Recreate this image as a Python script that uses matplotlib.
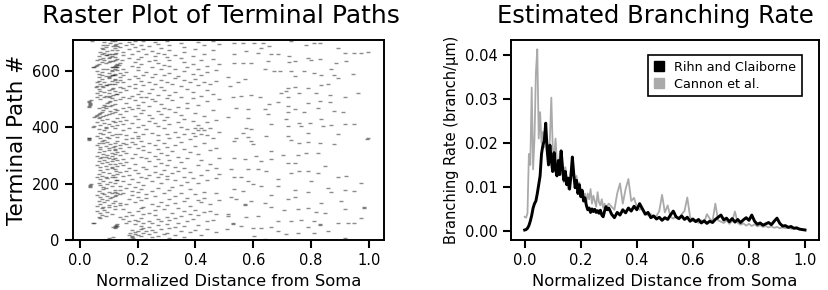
import numpy as np
import matplotlib
matplotlib.use("Agg")
import matplotlib.pyplot as plt
from matplotlib.patches import Patch

# ---- raster: terminal path number -> normalized distances of its branch points
path_ids = [
    2, 5, 8, 12, 15, 19, 22, 26, 29, 33, 36, 40, 43,
    46, 49, 52, 56, 59, 62, 66, 69, 72, 76, 79,
    83, 86, 90, 93, 97, 100, 104, 107, 110, 113,
    117, 120, 124, 127, 131, 134, 138, 141, 145, 148,
    152, 155, 158, 162, 165, 168, 172, 175, 179, 182, 185,
    188, 191, 195, 198, 202, 205, 209, 212, 215, 219,
    222, 225, 228, 232, 235, 239, 242, 245, 249, 252, 255,
    259, 262, 266, 269, 273, 276, 280, 283, 286, 289, 292,
    295, 298, 302, 305, 309, 312, 315, 319, 322, 325,
    329, 332, 336, 339, 342, 345, 348, 351, 354, 357, 360,
    363, 366, 368, 371, 374, 377, 380, 384, 388, 392, 395, 398,
    402, 404, 408, 411, 415, 418, 422, 425, 428, 432,
    436, 439, 442, 446, 449, 452, 456, 459, 463, 466, 469,
    472, 475, 479, 482, 485, 488, 491, 495, 498, 502, 505,
    508, 511, 514, 518, 521, 524, 527, 530, 533, 537,
    541, 544, 548, 551, 554, 558, 561, 564, 568, 571, 574,
    577, 580, 583, 586, 589, 592, 595, 598, 601, 604, 607,
    611, 614, 617, 620, 623, 627, 630, 633, 636, 639, 642,
    645, 648, 651, 654, 657, 660, 663, 666, 669, 672, 676,
    680, 683, 686, 689, 692, 695, 698, 701, 704, 706,
]

branch_dists = [
    # 0-45
    [0.10, 0.19, 0.28, 0.547], [0.105, 0.17, 0.23, 0.639], [0.10, 0.185, 0.31, 0.916],
    [0.115, 0.18, 0.25, 0.36], [0.18, 0.21, 0.27, 0.604], [0.17, 0.20, 0.33, 0.42],
    [0.19, 0.24, 0.29, 0.714], [0.175, 0.22, 0.30, 0.755, 0.812], [0.19, 0.26, 0.38, 0.47],
    [0.20, 0.23, 0.35, 0.685, 0.858], [0.18, 0.25, 0.40], [0.21, 0.28, 0.44, 0.51],
    [0.12, 0.22, 0.31, 0.598, 0.627],
    # 45-80
    [0.115, 0.125, 0.24, 0.33, 0.662, 0.79], [0.12, 0.13, 0.21, 0.36, 0.558],
    [0.125, 0.27, 0.41, 0.83], [0.13, 0.19, 0.30, 0.53, 0.83], [0.046, 0.16, 0.25, 0.893, 0.928],
    [0.048, 0.22, 0.34, 0.95, 0.53], [0.20, 0.28, 0.44, 0.685, 0.73], [0.17, 0.24, 0.37, 0.812],
    [0.19, 0.31, 0.46, 0.766], [0.15, 0.27, 0.39], [0.07, 0.21, 0.33, 0.973],
    # 80-115
    [0.065, 0.14, 0.30, 0.576], [0.09, 0.16, 0.35, 0.616, 0.512], [0.075, 0.18, 0.26, 0.41],
    [0.11, 0.22, 0.38, 0.47, 0.512], [0.07, 0.24, 0.32, 0.847], [0.095, 0.17, 0.43, 0.818],
    [0.06, 0.20, 0.36, 0.45], [0.085, 0.26, 0.40, 0.708], [0.12, 0.15, 0.29, 0.755, 0.916],
    [0.075, 0.21, 0.34, 0.79, 0.985],
    # 115-151
    [0.08, 0.10, 0.22, 0.662, 0.985], [0.06, 0.12, 0.27, 0.38], [0.10, 0.14, 0.30, 0.57],
    [0.07, 0.16, 0.25, 0.45, 0.57], [0.115, 0.14, 0.33, 0.639, 0.835], [0.085, 0.19, 0.28, 0.42],
    [0.065, 0.12, 0.36, 0.593, 0.905], [0.095, 0.21, 0.41, 0.48], [0.075, 0.17, 0.31, 0.541, 0.72],
    [0.105, 0.23, 0.37, 0.43],
    # 151-186
    [0.07, 0.11, 0.20, 0.524, 0.743], [0.095, 0.12, 0.26, 0.33], [0.06, 0.125, 0.18, 0.662],
    [0.085, 0.14, 0.23, 0.40], [0.11, 0.13, 0.29, 0.47], [0.075, 0.15, 0.35],
    [0.10, 0.12, 0.20, 0.43, 0.79, 0.87], [0.065, 0.18, 0.25, 0.564, 0.95],
    [0.12, 0.14, 0.31, 0.743, 0.916], [0.08, 0.21, 0.38, 0.535], [0.09, 0.16, 0.27, 0.858],
    # 186-221
    [0.034, 0.08, 0.19, 0.32], [0.035, 0.11, 0.14, 0.627, 0.685], [0.036, 0.07, 0.22, 0.35],
    [0.04, 0.095, 0.17, 0.598], [0.065, 0.12, 0.28, 0.41, 0.973], [0.105, 0.20, 0.37],
    [0.08, 0.15, 0.25, 0.581, 0.80], [0.125, 0.13, 0.33, 0.44], [0.07, 0.18, 0.30, 0.685],
    [0.095, 0.23, 0.39, 0.47],
    # 221-257
    [0.06, 0.11, 0.21, 0.558, 0.893], [0.09, 0.12, 0.27, 0.36, 0.535], [0.075, 0.15, 0.30, 0.922],
    [0.115, 0.17, 0.24, 0.42], [0.065, 0.13, 0.28, 0.48], [0.10, 0.20, 0.32, 0.73, 0.823],
    [0.08, 0.14, 0.26, 0.38], [0.125, 0.16, 0.34, 0.645, 0.76, 0.79], [0.07, 0.19, 0.29, 0.44],
    [0.095, 0.12, 0.23, 0.524, 0.581, 0.616], [0.11, 0.17, 0.36, 0.47],
    # 257-292
    [0.07, 0.11, 0.22, 0.33], [0.09, 0.13, 0.26, 0.847], [0.06, 0.15, 0.30, 0.41],
    [0.105, 0.12, 0.19, 0.45], [0.075, 0.14, 0.28, 0.72, 0.743], [0.095, 0.16, 0.35],
    [0.065, 0.11, 0.24, 0.627], [0.085, 0.13, 0.31, 0.42], [0.115, 0.15, 0.27, 0.57, 0.662],
    [0.07, 0.18, 0.37, 0.48], [0.10, 0.12, 0.23, 0.535],
    # 292-327
    [0.075, 0.09, 0.21, 0.34], [0.06, 0.11, 0.26, 0.61], [0.095, 0.14, 0.30, 0.703, 0.755],
    [0.08, 0.12, 0.19, 0.41], [0.11, 0.16, 0.28, 0.784, 0.823], [0.065, 0.13, 0.24, 0.38],
    [0.085, 0.15, 0.32, 0.662], [0.12, 0.10, 0.22, 0.45], [0.07, 0.12, 0.27, 0.36],
    [0.10, 0.14, 0.20, 0.47],
    # 327-362
    [0.07, 0.115, 0.17, 0.30], [0.09, 0.12, 0.22, 0.40], [0.06, 0.14, 0.26, 0.33],
    [0.105, 0.16, 0.19, 0.598, 0.88], [0.08, 0.12, 0.29, 0.76], [0.065, 0.15, 0.24, 0.43, 0.83],
    [0.095, 0.18, 0.35, 0.79], [0.075, 0.13, 0.21, 0.535, 0.593], [0.03, 0.085, 0.27, 0.73],
    [0.031, 0.16, 0.38, 0.995], [0.032, 0.10, 0.20, 0.46, 0.541],
    # 362-400
    [0.03, 0.07, 0.18, 0.31, 0.996], [0.095, 0.13, 0.34, 0.581], [0.06, 0.20, 0.40, 0.645, 0.72],
    [0.11, 0.16, 0.27, 0.44], [0.08, 0.22, 0.36, 0.893], [0.125, 0.14, 0.30, 0.42],
    [0.07, 0.25, 0.39, 0.564, 0.789], [0.10, 0.19, 0.33, 0.48], [0.085, 0.15, 0.41, 0.43],
    [0.065, 0.23, 0.37, 0.593], [0.12, 0.17, 0.40, 0.45], [0.09, 0.29, 0.42, 0.576],
    # 400-435
    [0.045, 0.09, 0.20, 0.35], [0.05, 0.11, 0.27, 0.72, 0.766, 0.841],
    [0.07, 0.13, 0.22, 0.41, 0.87], [0.10, 0.15, 0.31, 0.662, 0.916, 0.95],
    [0.085, 0.18, 0.26, 0.76, 0.795], [0.06, 0.12, 0.34, 0.44], [0.115, 0.14, 0.24, 0.39],
    [0.075, 0.16, 0.29, 0.47], [0.095, 0.20, 0.36, 0.714, 0.835], [0.065, 0.13, 0.25, 0.581],
    # 435-470
    [0.05, 0.07, 0.15, 0.30, 0.512], [0.055, 0.08, 0.19, 0.43], [0.06, 0.09, 0.24, 0.35],
    [0.065, 0.10, 0.14, 0.28, 0.65], [0.07, 0.11, 0.21, 0.40], [0.075, 0.12, 0.33, 0.72, 0.777, 0.91],
    [0.105, 0.16, 0.27, 0.881], [0.08, 0.13, 0.22, 0.46], [0.12, 0.18, 0.31, 0.581, 0.639, 0.743],
    [0.09, 0.15, 0.37, 0.823], [0.065, 0.20, 0.29, 0.541],
    # 470-505
    [0.03, 0.08, 0.17, 0.34], [0.032, 0.09, 0.105, 0.24, 0.72], [0.034, 0.085, 0.11, 0.20, 0.41],
    [0.036, 0.12, 0.28, 0.656], [0.035, 0.095, 0.16, 0.37, 0.789], [0.03, 0.10, 0.22, 0.685, 0.864],
    [0.033, 0.105, 0.26, 0.44, 0.83], [0.04, 0.12, 0.19, 0.32], [0.07, 0.14, 0.25, 0.48],
    [0.11, 0.17, 0.30, 0.39], [0.085, 0.15, 0.21, 0.53, 0.622],
    # 505-540
    [0.06, 0.10, 0.23, 0.35, 0.72, 0.916], [0.09, 0.105, 0.18, 0.42, 0.558],
    [0.07, 0.115, 0.27, 0.31, 0.593, 0.864], [0.125, 0.13, 0.20, 0.46],
    [0.06, 0.10, 0.24, 0.696, 0.76, 0.818, 0.962], [0.085, 0.14, 0.33, 0.39],
    [0.07, 0.12, 0.21, 0.714], [0.10, 0.16, 0.29, 0.44], [0.065, 0.11, 0.25, 0.37],
    [0.115, 0.15, 0.19, 0.72, 0.789],
    # 540-575
    [0.057, 0.08, 0.14, 0.28, 0.743], [0.06, 0.075, 0.17, 0.35, 0.518], [0.095, 0.09, 0.22, 0.41, 0.835],
    [0.07, 0.12, 0.26, 0.858], [0.11, 0.10, 0.19, 0.32, 0.45], [0.058, 0.13, 0.24, 0.38],
    [0.085, 0.15, 0.30, 0.43, 0.547], [0.065, 0.11, 0.21, 0.47], [0.12, 0.14, 0.28, 0.36],
    [0.075, 0.12, 0.17, 0.40, 0.57], [0.10, 0.20, 0.33, 0.893],
    # 575-610
    [0.065, 0.10, 0.14, 0.25, 0.512], [0.09, 0.105, 0.19, 0.34, 0.743], [0.075, 0.11, 0.15, 0.29, 0.42],
    [0.12, 0.115, 0.22, 0.835, 0.881], [0.065, 0.12, 0.26, 0.39, 0.945], [0.10, 0.14, 0.31, 0.812],
    [0.075, 0.16, 0.23, 0.44], [0.06, 0.11, 0.36, 0.673, 0.691, 0.73, 0.777], [0.11, 0.13, 0.20, 0.47],
    [0.08, 0.15, 0.28, 0.639, 0.87], [0.095, 0.12, 0.33, 0.41],
    # 610-645
    [0.045, 0.11, 0.125, 0.20, 0.37], [0.05, 0.115, 0.13, 0.25], [0.055, 0.12, 0.18, 0.31, 0.44],
    [0.06, 0.125, 0.135, 0.29], [0.065, 0.13, 0.21, 0.39, 0.48],
    [0.09, 0.14, 0.27, 0.535, 0.564, 0.593, 0.887], [0.075, 0.10, 0.19, 0.36, 0.725],
    [0.105, 0.115, 0.24, 0.65, 0.743, 0.922], [0.085, 0.145, 0.31, 0.42], [0.06, 0.12, 0.26, 0.80],
    [0.07, 0.13, 0.20, 0.46, 0.83],
    # 645-680
    [0.08, 0.10, 0.17, 0.35, 0.789], [0.105, 0.12, 0.21, 0.30], [0.065, 0.11, 0.26, 0.39, 0.725],
    [0.09, 0.095, 0.15, 0.33], [0.075, 0.10, 0.23, 0.43, 0.535, 0.662], [0.12, 0.11, 0.18, 0.29, 0.685],
    [0.085, 0.125, 0.27, 0.616, 0.916, 0.95, 0.973], [0.07, 0.15, 0.36, 0.996], [0.095, 0.20, 0.25, 0.576],
    [0.11, 0.13, 0.31, 0.46], [0.08, 0.17, 0.22, 0.40],
    # 680-708
    [0.075, 0.12, 0.28, 0.627, 0.893], [0.09, 0.14, 0.19, 0.36], [0.115, 0.13, 0.24, 0.656],
    [0.08, 0.16, 0.31, 0.43], [0.095, 0.12, 0.21, 0.783], [0.125, 0.18, 0.27, 0.48],
    [0.105, 0.14, 0.35, 0.535, 0.564, 0.604, 0.633, 0.812, 0.83], [0.085, 0.17, 0.26, 0.41],
    [0.043, 0.12, 0.22, 0.46], [0.11, 0.19, 0.30, 0.73],
]

# ---- branching rate curves
rate_x = np.concatenate([np.arange(0, 0.3, 0.005), np.arange(0.30, 1.001, 0.01)])

cannon_rate = [
    0.0032, 0.0030, 0.0040, 0.0175, 0.0150, 0.0326, 0.0140, 0.0210, 0.0360, 0.0413,
    0.0210, 0.0270, 0.0200, 0.0225, 0.0190, 0.0220, 0.0195, 0.0170, 0.0210, 0.0303,
    0.0190, 0.0165, 0.0210, 0.0155, 0.0130, 0.0175, 0.0160, 0.0125, 0.0110, 0.0145,
    0.0120, 0.0095, 0.0110, 0.0135, 0.0155, 0.0130, 0.0110, 0.0125, 0.0095, 0.0110,
    0.0085, 0.0095, 0.0075, 0.0085, 0.0065, 0.0085, 0.0072, 0.0095, 0.0062, 0.0080,
    0.0068, 0.0055, 0.0088, 0.0065, 0.0058, 0.0072, 0.0052, 0.0062, 0.0048, 0.0058,
    # 0.30 - 1.00
    0.0062, 0.0055, 0.0048, 0.0085, 0.0108, 0.0062, 0.0095, 0.0118, 0.0068, 0.0075,
    0.0055, 0.0048, 0.0052, 0.0041, 0.0035, 0.0038, 0.0031, 0.0034, 0.0045, 0.0082,
    0.0042, 0.0058, 0.0032, 0.0028, 0.0034, 0.0026, 0.0038, 0.0045, 0.0076, 0.0032,
    0.0022, 0.0025, 0.0018, 0.0024, 0.0019, 0.0038, 0.0028, 0.0022, 0.0062, 0.0024,
    0.0021, 0.0018, 0.0024, 0.0016, 0.0022, 0.0044, 0.0018, 0.0014, 0.0017, 0.0012,
    0.0016, 0.0011, 0.0015, 0.0010, 0.0013, 0.0009, 0.0011, 0.0008, 0.0010, 0.0007,
    0.0009, 0.0006, 0.0008, 0.0006, 0.0007, 0.0005, 0.0006, 0.0004, 0.0005, 0.0003,
    0.0003,
]

rihn_rate = [
    0.0002, 0.0003, 0.0006, 0.0012, 0.0022, 0.0035, 0.0052, 0.0062, 0.0068, 0.0085,
    0.0105, 0.0125, 0.0175, 0.0195, 0.0205, 0.0245, 0.0185, 0.0150, 0.0195, 0.0160,
    0.0135, 0.0178, 0.0140, 0.0125, 0.0160, 0.0128, 0.0182, 0.0145, 0.0115, 0.0135,
    0.0105, 0.0120, 0.0095, 0.0125, 0.0168, 0.0130, 0.0098, 0.0115, 0.0085, 0.0105,
    0.0078, 0.0092, 0.0068, 0.0075, 0.0058, 0.0048, 0.0052, 0.0042, 0.0050, 0.0044,
    0.0049, 0.0042, 0.0046, 0.0040, 0.0047, 0.0036, 0.0032, 0.0045, 0.0055, 0.0048,
    # 0.30 - 1.00
    0.0052, 0.0038, 0.0030, 0.0042, 0.0036, 0.0048, 0.0041, 0.0052, 0.0045, 0.0056,
    0.0048, 0.0062, 0.0050, 0.0038, 0.0042, 0.0030, 0.0034, 0.0027, 0.0031, 0.0024,
    0.0030, 0.0026, 0.0036, 0.0045, 0.0032, 0.0028, 0.0034, 0.0026, 0.0031, 0.0022,
    0.0027, 0.0021, 0.0026, 0.0018, 0.0023, 0.0017, 0.0022, 0.0019, 0.0026, 0.0031,
    0.0036, 0.0025, 0.0029, 0.0021, 0.0028, 0.0020, 0.0026, 0.0019, 0.0025, 0.0030,
    0.0024, 0.0036, 0.0022, 0.0015, 0.0018, 0.0013, 0.0016, 0.0019, 0.0014, 0.0022,
    0.0029, 0.0017, 0.0011, 0.0012, 0.0008, 0.0010, 0.0006, 0.0007, 0.0004, 0.0003,
    0.0002,
]

plt.rcParams['font.family'] = 'DejaVu Sans'
plt.rcParams['axes.linewidth'] = 1.4

fig = plt.figure(figsize=(8.29, 2.9), dpi=100)
ax1 = fig.add_axes([0.088, 0.172, 0.375, 0.690])
ax2 = fig.add_axes([0.616, 0.172, 0.372, 0.690])

# raster
xs = [d for row in branch_dists for d in row]
ys = [p for p, row in zip(path_ids, branch_dists) for _ in row]
ax1.plot(xs, ys, linestyle='none', marker='_', ms=2.6, mew=1.0, color='k', alpha=0.45)
ax1.set_xlim(-0.024, 1.052)
ax1.set_ylim(0, 708)
ax1.set_xticks([0.0, 0.2, 0.4, 0.6, 0.8, 1.0])
ax1.set_yticks([0, 200, 400, 600])
ax1.set_title('Raster Plot of Terminal Paths', fontsize=18, pad=12, x=0.475)
ax1.set_xlabel('Normalized Distance from Soma', fontsize=11.8)
ax1.set_ylabel('Terminal Path #', fontsize=15.5, labelpad=3)

# branching rate
ax2.plot(rate_x, cannon_rate, color='#aaaaaa', lw=1.3, label='Cannon et al.')
ax2.plot(rate_x, rihn_rate, color='k', lw=2.1, label='Rihn and Claiborne')
ax2.set_xlim(-0.05, 1.05)
ax2.set_ylim(-0.0021, 0.0434)
ax2.set_xticks([0.0, 0.2, 0.4, 0.6, 0.8, 1.0])
ax2.set_yticks([0.0, 0.01, 0.02, 0.03, 0.04])
ax2.set_title('Estimated Branching Rate', fontsize=17.5, pad=12, x=0.47)
ax2.set_xlabel('Normalized Distance from Soma', fontsize=11.8)
ax2.set_ylabel('Branching Rate (branch/\u03bcm)', fontsize=10.5)

handles = [Patch(color='k'), Patch(color='#aaaaaa')]
leg = ax2.legend(handles, ['Rihn and Claiborne', 'Cannon et al.'], loc='upper right',
                 fontsize=9.2, fancybox=False, framealpha=1, handlelength=0.8,
                 handleheight=0.8, handletextpad=0.8, borderpad=0.45, labelspacing=0.3,
                 borderaxespad=0, bbox_to_anchor=(0.945, 0.925))
leg.get_frame().set_edgecolor('k')
leg.get_frame().set_linewidth(1.2)

for ax in (ax1, ax2):
    ax.tick_params(direction='out', length=5.5, width=1.5, labelsize=10.5, pad=4)

fig.savefig('out.png', dpi=100)
